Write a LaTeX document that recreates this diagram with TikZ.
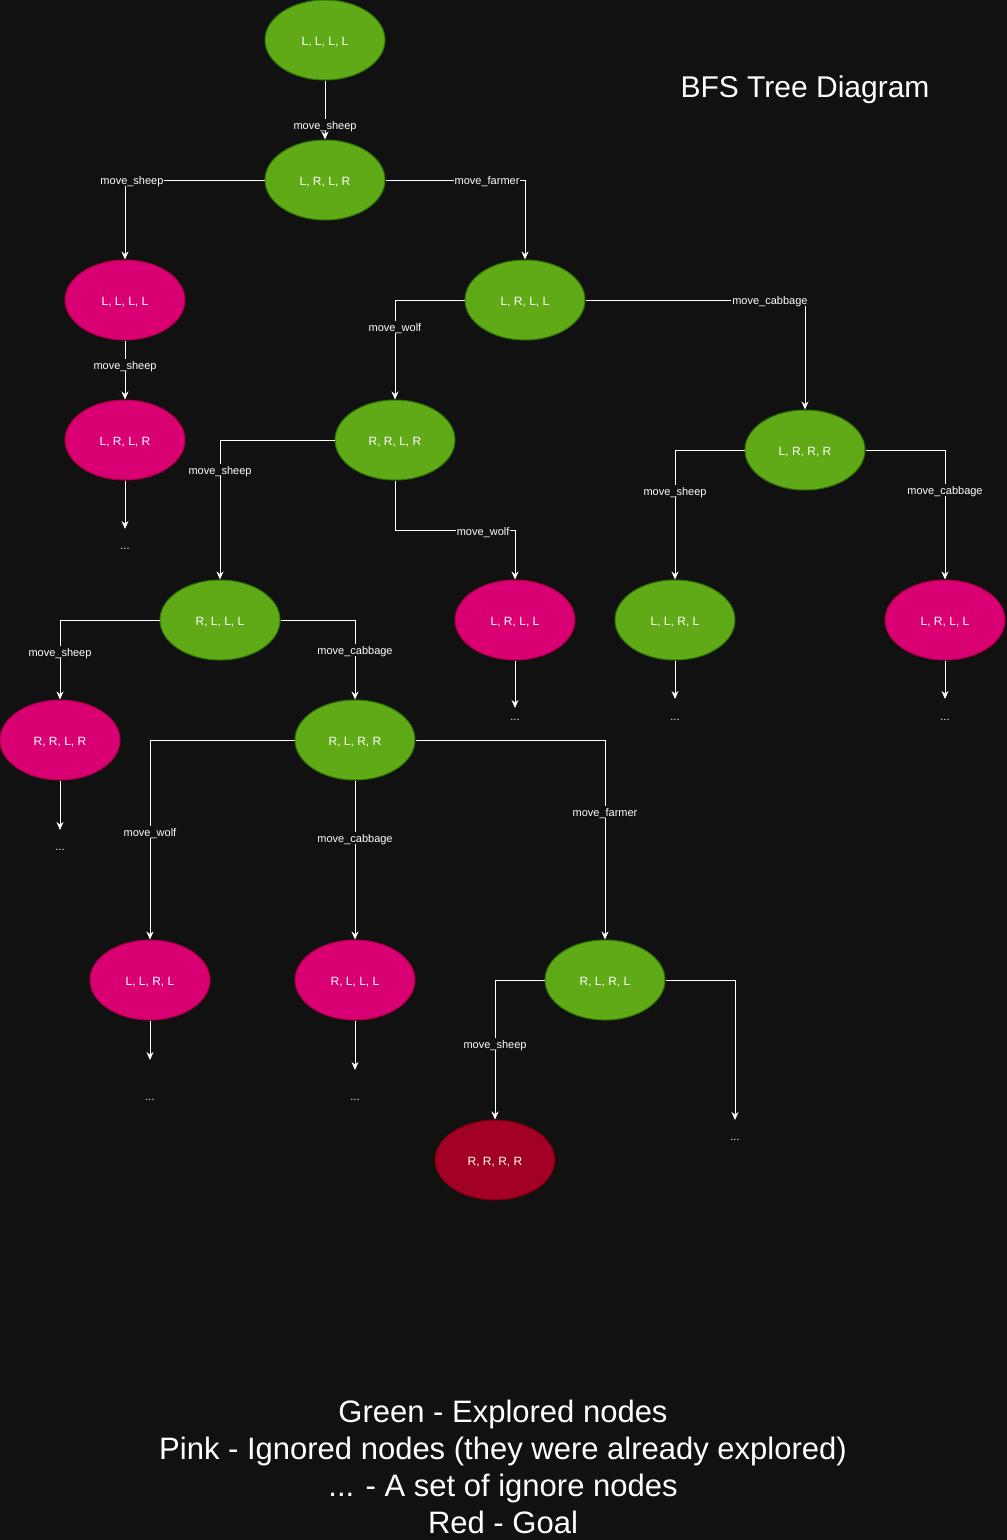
\documentclass[tikz,border=0pt]{standalone}
\usepackage{fontspec}
\setmainfont{Liberation Sans}
\usepackage{tikz}
\usetikzlibrary{arrows.meta}
\usetikzlibrary{shapes}
\usetikzlibrary{positioning}
\definecolor{bg}{HTML}{111111}
\definecolor{expfill}{HTML}{60A917}
\definecolor{expline}{HTML}{2D7600}
\definecolor{ignfill}{HTML}{D80073}
\definecolor{ignline}{HTML}{A50040}
\definecolor{goalfill}{HTML}{A20025}
\definecolor{goalline}{HTML}{6F0000}
\tikzstyle{state}=[ellipse,minimum width=120pt,minimum height=80pt,inner sep=0pt,text height=10pt,text depth=0pt,text=white,font=\fontsize{12}{14}\selectfont]
\tikzstyle{explored}=[fill=expfill,draw=expline]
\tikzstyle{ignored}=[fill=ignfill,draw=ignline]
\tikzstyle{goal}=[fill=goalfill,draw=goalline]
\begin{document}
\begin{tikzpicture}[x=1pt,y=-1pt,line width=1pt]
\tikzstyle{edge}=[draw=white,-{Stealth[length=8pt,width=7pt]}]
\tikzstyle{lbl}=[fill=bg,text=white,inner sep=1pt,text height=9.5pt,text depth=0.5pt,font=\fontsize{11}{13}\selectfont]
\tikzstyle{more}=[text=white,anchor=base,inner sep=0pt,font=\fontsize{11}{13}\selectfont]
\fill[bg] (0,0) rectangle (1007,1540);
\useasboundingbox (0,0) rectangle (1007,1540);

\node [state,explored] (s1) at (325,40) {L, L, L, L};
\node [state,explored] (s2) at (325,180) {L, R, L, R};
\node [state,ignored] (s3) at (125,300) {L, L, L, L};
\node [state,explored] (s4) at (525,300) {L, R, L, L};
\node [state,ignored] (s5) at (125,440) {L, R, L, R};
\node [state,explored] (s6) at (395,440) {R, R, L, R};
\node [state,explored] (s7) at (805,450) {L, R, R, R};
\node [state,explored] (s8) at (220,620) {R, L, L, L};
\node [state,ignored] (s9) at (515,620) {L, R, L, L};
\node [state,explored] (s10) at (675,620) {L, L, R, L};
\node [state,ignored] (s11) at (945,620) {L, R, L, L};
\node [state,ignored] (s12) at (60,740) {R, R, L, R};
\node [state,explored] (s13) at (355,740) {R, L, R, R};
\node [state,ignored] (s14) at (150,980) {L, L, R, L};
\node [state,ignored] (s15) at (355,980) {R, L, L, L};
\node [state,explored] (s16) at (605,980) {R, L, R, L};
\node [state,goal] (s17) at (495,1160) {R, R, R, R};

\node [more] (m5) at (125,549) {...};
\node [more] (m9) at (515,720) {...};
\node [more] (m10) at (675,720) {...};
\node [more] (m11) at (945,720) {...};
\node [more] (m12) at (60,850) {...};
\node [more] (m14) at (150,1100) {...};
\node [more] (m15) at (355,1100) {...};
\node [more] (m16) at (735,1140) {...};

\coordinate (e5) at (125,529);
\coordinate (e9) at (515,708);
\coordinate (e10) at (675,699);
\coordinate (e11) at (945,699);
\coordinate (e12) at (60,830);
\coordinate (e14) at (150,1060);
\coordinate (e15) at (355,1070);
\coordinate (e16) at (735,1120);

\draw [edge] (s1) -- node[lbl,pos=0.75] {move\_sheep} (s2);
\draw [edge] (s2.west) -| node[lbl,pos=0.475] {move\_sheep} (s3.north);
\draw [edge] (s2.east) -| node[lbl,pos=0.364] {move\_farmer} (s4.north);
\draw [edge] (s3) -- node[lbl,pos=0.42] {move\_sheep} (s5);
\draw [edge] (s4.west) -| node[lbl,pos=0.635] {move\_wolf} (s6.north);
\draw [edge] (s4.east) -| node[lbl,pos=0.42] {move\_cabbage} (s7.north);
\draw [edge] (s5.south) -- (e5);
\draw [edge] (s6.west) -| node[lbl,pos=0.607] {move\_sheep} (s8.north);
\draw [edge] (s6.south) -- ++(0,50) -| node[lbl,pos=0.367] {move\_wolf} (s9.north);
\draw [edge] (s7.west) -| node[lbl,pos=0.66] {move\_sheep} (s10.north);
\draw [edge] (s7.east) -| node[lbl,pos=0.654] {move\_cabbage} (s11.north);
\draw [edge] (s8.west) -| node[lbl,pos=0.7] {move\_sheep} (s12.north);
\draw [edge] (s8.east) -| node[lbl,pos=0.69] {move\_cabbage} (s13.north);
\draw [edge] (s9.south) -- (e9);
\draw [edge] (s10.south) -- (e10);
\draw [edge] (s11.south) -- (e11);
\draw [edge] (s12.south) -- (e12);
\draw [edge] (s13.west) -| node[lbl,pos=0.73] {move\_wolf} (s14.north);
\draw [edge] (s13) -- node[lbl,pos=0.36] {move\_cabbage} (s15);
\draw [edge] (s13.east) -| node[lbl,pos=0.68] {move\_farmer} (s16.north);
\draw [edge] (s14.south) -- (e14);
\draw [edge] (s15.south) -- (e15);
\draw [edge] (s16.west) -| node[lbl,pos=0.73] {move\_sheep} (s17.north);
\draw [edge] (s16.east) -| (e16);

\node [text=white,font=\fontsize{30}{36}\selectfont] (title) at (805,90) {BFS Tree Diagram};
\node [text=white,align=center,font=\fontsize{31}{37}\selectfont] (legend) at (503,1467) {Green - Explored nodes\\Pink - Ignored nodes (they were already explored)\\... - A set of ignore nodes\\Red - Goal};
\end{tikzpicture}
\end{document}
